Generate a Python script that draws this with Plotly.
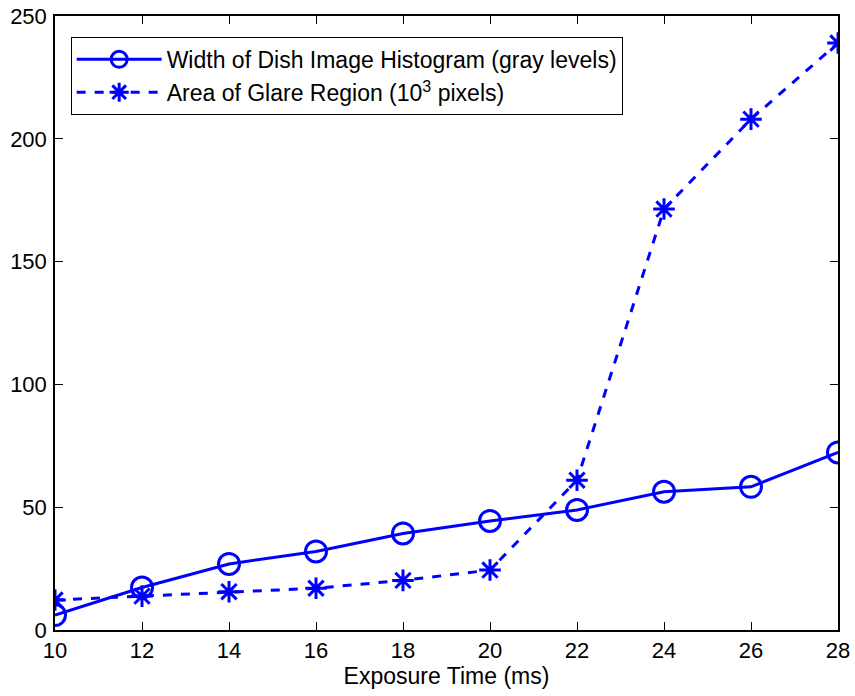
import plotly.graph_objects as go

exposure = [10, 12, 14, 16, 18, 20, 22, 24, 26, 28]
hist_width = [6.1, 17.3, 26.9, 32, 39.3, 44.4, 48.9, 56.3, 58.3, 72.3]
glare_area = [12.2, 13.8, 15.6, 17, 20.2, 24.4, 61, 171.4, 208, 239]

x_ticks = [10, 12, 14, 16, 18, 20, 22, 24, 26, 28]
y_ticks = [0, 50, 100, 150, 200, 250]

FONT = "Liberation Sans, Arial, sans-serif"
blue = "#0000FF"
fig = go.Figure()
fig.add_trace(go.Scatter(
    x=exposure, y=hist_width, mode="lines+markers",
    name="Width of Dish Image Histogram (gray levels)", legendgroup="a",
    line=dict(color=blue, width=3),
    marker=dict(symbol="circle-open", size=21, color=blue, line=dict(width=3, color=blue)),
))
fig.add_trace(go.Scatter(
    x=exposure, y=glare_area, mode="lines+markers",
    name="Area of Glare Region (10<sup>3</sup> pixels)", legendgroup="b",
    line=dict(color=blue, width=3, dash="dash"),
    marker=dict(symbol="asterisk-open", size=18, color=blue, line=dict(width=3, color=blue)),
))

axis_common = dict(
    showline=True, linecolor="black", linewidth=1.5, mirror="ticks",
    ticks="inside", ticklen=8, tickwidth=1, tickcolor="black",
    showgrid=False, zeroline=False, automargin=False,
    tickfont=dict(family=FONT, size=22, color="black"),
)
fig.update_xaxes(range=[10, 28], tickvals=x_ticks, title=dict(text="Exposure Time (ms)",
                 font=dict(family=FONT, size=23, color="black"), standoff=6),
                 **axis_common)
fig.update_yaxes(range=[0, 250], tickvals=y_ticks, ticklabelstandoff=2, **axis_common)

fig.update_layout(
    width=855, height=696,
    margin=dict(l=55, r=17, t=16, b=66),
    paper_bgcolor="white", plot_bgcolor="white",
    font=dict(family=FONT, size=22, color="black"),
    legend=dict(x=0.02, y=0.966, xanchor="left", yanchor="top",
                bordercolor="black", borderwidth=1, bgcolor="white",
                font=dict(size=23, family=FONT), itemwidth=85,
                traceorder="grouped", tracegroupgap=0),
    showlegend=True,
)
fig.write_html("out.html")
